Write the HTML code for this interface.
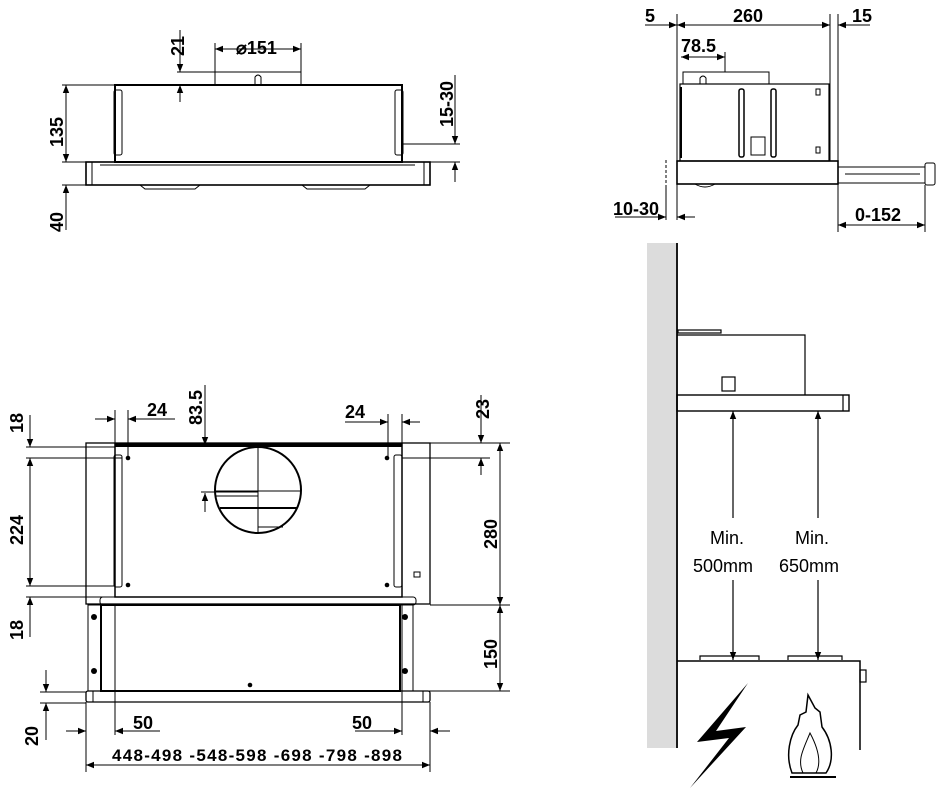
<!DOCTYPE html>
<html><head><meta charset="utf-8"><style>
html,body{margin:0;padding:0;background:#fff}
svg{display:block}
text{font-family:"Liberation Sans",sans-serif;fill:#000}
</style></head><body>
<svg width="950" height="797" viewBox="0 0 950 797" xmlns="http://www.w3.org/2000/svg">
<defs>
<marker id="a" viewBox="0 0 10 10" refX="10" refY="5" markerWidth="12" markerHeight="8" orient="auto-start-reverse" markerUnits="userSpaceOnUse"><path d="M0,1 L10,5 L0,9 z" fill="#000"/></marker>
</defs>
<g stroke="#000" fill="none" stroke-width="1">
<rect x="115" y="85" width="287" height="77" stroke-width="2"/>
<rect x="114" y="90" width="8" height="65" rx="2"/>
<rect x="395" y="90" width="8" height="65" rx="2"/>
<rect x="86" y="162" width="344" height="23" stroke-width="1.6"/>
<line x1="92" y1="162" x2="92" y2="185"/><line x1="424" y1="162" x2="424" y2="185"/>
<line x1="100" y1="165" x2="415" y2="165"/>
<path d="M140 185 L145 189 L195 189 L200 185 M302 185 L307 189 L365 189 L370 185"/>
<path d="M255 85 L255 77 Q258 73 261 77 L261 85"/>
<line x1="215" y1="85" x2="215" y2="43"/><line x1="301" y1="85" x2="301" y2="43"/>
<line x1="177" y1="72" x2="301" y2="72"/>
<line x1="215" y1="49" x2="301" y2="49" marker-start="url(#a)" marker-end="url(#a)"/>
<line x1="180" y1="30" x2="180" y2="72" marker-end="url(#a)"/>
<line x1="180" y1="102" x2="180" y2="85" marker-end="url(#a)"/>
<line x1="62" y1="85" x2="115" y2="85"/>
<line x1="62" y1="162" x2="86" y2="162"/><line x1="62" y1="185" x2="86" y2="185"/>
<line x1="66" y1="85" x2="66" y2="162" marker-start="url(#a)" marker-end="url(#a)"/>
<line x1="66" y1="230" x2="66" y2="185" marker-end="url(#a)"/>
<line x1="403" y1="144" x2="460" y2="144"/><line x1="430" y1="162" x2="460" y2="162"/>
<line x1="455" y1="75" x2="455" y2="144" marker-end="url(#a)"/>
<line x1="455" y1="182" x2="455" y2="162" marker-end="url(#a)"/>
<line x1="677" y1="14" x2="677" y2="220"/><line x1="830" y1="14" x2="830" y2="161"/>
<line x1="838" y1="14" x2="838" y2="232"/>
<line x1="645" y1="25" x2="677" y2="25" marker-end="url(#a)"/>
<line x1="677" y1="25" x2="830" y2="25" marker-start="url(#a)" marker-end="url(#a)"/>
<line x1="870" y1="25" x2="838" y2="25" marker-end="url(#a)"/>
<line x1="681" y1="57" x2="725" y2="57" marker-start="url(#a)" marker-end="url(#a)"/>
<line x1="725" y1="52" x2="725" y2="72"/>
<rect x="683" y="72" width="86" height="12"/>
<path d="M700 84 L700 78 Q703 74 706 78 L706 84"/>
<rect x="680" y="84" width="149" height="77" stroke-width="1.2"/>
<line x1="681" y1="87" x2="681" y2="158" stroke-width="2"/>
<rect x="739" y="89" width="5" height="68" rx="2" stroke-width="1.5"/>
<rect x="771" y="89" width="5" height="68" rx="2" stroke-width="1.5"/>
<rect x="751" y="137" width="14" height="18"/>
<rect x="816" y="89" width="4" height="6"/><rect x="816" y="147" width="4" height="6"/>
<rect x="677" y="161" width="161" height="23" stroke-width="1.6"/>
<path d="M695 184 Q705 190 715 184"/>
<rect x="838" y="167" width="87" height="16"/>
<line x1="845" y1="174" x2="920" y2="174"/>
<rect x="925" y="163" width="10" height="22" rx="2"/>
<line x1="666" y1="160" x2="666" y2="185" stroke-dasharray="3,2"/>
<line x1="666" y1="185" x2="666" y2="220"/>
<line x1="615" y1="217" x2="666" y2="217" marker-end="url(#a)"/>
<line x1="695" y1="217" x2="677" y2="217" marker-end="url(#a)"/>
<line x1="925" y1="185" x2="925" y2="232"/>
<line x1="838" y1="225" x2="925" y2="225" marker-start="url(#a)" marker-end="url(#a)"/>
<rect x="86" y="443" width="344" height="161" stroke-width="1.3"/>
<rect x="115" y="444" width="287" height="153" stroke-width="1.5"/>
<line x1="115" y1="445" x2="402" y2="445" stroke-width="4"/>
<rect x="114" y="455" width="8" height="132" rx="2"/>
<rect x="394" y="455" width="8" height="132" rx="2"/>
<circle cx="258" cy="490" r="43" stroke-width="2"/>
<line x1="258" y1="447" x2="258" y2="533"/>
<line x1="215" y1="491" x2="300" y2="491"/>
<line x1="220" y1="508" x2="297" y2="508" stroke-width="2"/>
<line x1="215" y1="496" x2="258" y2="496"/>
<line x1="258" y1="527" x2="283" y2="527"/>
<rect x="100" y="597" width="316" height="8" rx="3"/>
<rect x="88" y="605" width="13" height="86"/>
<rect x="101" y="605" width="299" height="86" stroke-width="2"/>
<rect x="400" y="605" width="13" height="86"/>
<rect x="86" y="691" width="344" height="11" rx="2" stroke-width="1.3"/>
<line x1="93" y1="691" x2="93" y2="702"/><line x1="423" y1="691" x2="423" y2="702"/>
<rect x="414" y="572" width="6" height="5"/>
<line x1="26" y1="447" x2="115" y2="447"/><line x1="26" y1="458" x2="122" y2="458"/>
<line x1="26" y1="586" x2="115" y2="586"/><line x1="26" y1="597" x2="115" y2="597"/>
<line x1="30" y1="415" x2="30" y2="447" marker-end="url(#a)"/>
<line x1="30" y1="458" x2="30" y2="586" marker-start="url(#a)" marker-end="url(#a)"/>
<line x1="30" y1="637" x2="30" y2="597" marker-end="url(#a)"/>
<line x1="40" y1="692" x2="86" y2="692"/><line x1="40" y1="703" x2="86" y2="703"/>
<line x1="46" y1="670" x2="46" y2="692" marker-end="url(#a)"/>
<line x1="46" y1="740" x2="46" y2="703" marker-end="url(#a)"/>
<line x1="115" y1="410" x2="115" y2="444"/><line x1="128" y1="410" x2="128" y2="458"/>
<line x1="95" y1="419" x2="115" y2="419" marker-end="url(#a)"/>
<line x1="175" y1="419" x2="128" y2="419" marker-end="url(#a)"/>
<line x1="388" y1="414" x2="388" y2="458"/><line x1="402" y1="414" x2="402" y2="444"/>
<line x1="345" y1="422" x2="388" y2="422" marker-end="url(#a)"/>
<line x1="420" y1="422" x2="402" y2="422" marker-end="url(#a)"/>
<line x1="205" y1="385" x2="205" y2="445" marker-end="url(#a)"/>
<line x1="205" y1="512" x2="205" y2="493" marker-end="url(#a)"/>
<line x1="201" y1="492" x2="258" y2="492"/>
<line x1="402" y1="458" x2="490" y2="458"/><line x1="430" y1="443" x2="510" y2="443"/>
<line x1="430" y1="605" x2="510" y2="605"/><line x1="413" y1="691" x2="510" y2="691"/>
<line x1="481" y1="395" x2="481" y2="443" marker-end="url(#a)"/>
<line x1="481" y1="475" x2="481" y2="458" marker-end="url(#a)"/>
<line x1="500" y1="443" x2="500" y2="605" marker-start="url(#a)" marker-end="url(#a)"/>
<line x1="500" y1="605" x2="500" y2="691" marker-start="url(#a)" marker-end="url(#a)"/>
<line x1="86" y1="702" x2="86" y2="772"/><line x1="430" y1="702" x2="430" y2="772"/>
<line x1="115" y1="605" x2="115" y2="735"/><line x1="402" y1="605" x2="402" y2="735"/>
<line x1="66" y1="731" x2="86" y2="731" marker-end="url(#a)"/>
<line x1="160" y1="731" x2="115" y2="731" marker-end="url(#a)"/>
<line x1="355" y1="731" x2="402" y2="731" marker-end="url(#a)"/>
<line x1="450" y1="731" x2="430" y2="731" marker-end="url(#a)"/>
<line x1="86" y1="765" x2="430" y2="765" marker-start="url(#a)" marker-end="url(#a)"/>
</g>
<g fill="#000">
<circle cx="128" cy="458" r="2.3"/><circle cx="128" cy="585" r="2.3"/>
<circle cx="387" cy="458" r="2.3"/><circle cx="387" cy="585" r="2.3"/>
<circle cx="250" cy="685" r="2.3"/>
<circle cx="94" cy="617" r="3"/><circle cx="94" cy="671" r="3"/>
<circle cx="405" cy="617" r="3"/><circle cx="405" cy="671" r="3"/>
</g>
<rect x="647" y="243" width="29" height="505" fill="#dcdcdc"/>
<g stroke="#000" fill="none" stroke-width="1.2">
<line x1="677" y1="243" x2="677" y2="748" stroke-width="1.8"/>
<rect x="678" y="330" width="43" height="3"/>
<polyline points="677,335 805,335 805,395"/>
<rect x="722" y="377" width="13" height="14"/>
<rect x="677" y="395" width="172" height="16" stroke-width="1.4"/>
<line x1="843" y1="395" x2="843" y2="411"/>
<line x1="733" y1="411" x2="733" y2="518" marker-start="url(#a)"/>
<line x1="733" y1="580" x2="733" y2="660" marker-end="url(#a)"/>
<line x1="818" y1="411" x2="818" y2="518" marker-start="url(#a)"/>
<line x1="818" y1="580" x2="818" y2="660" marker-end="url(#a)"/>
<polyline points="677,661 860,661 860,750" stroke-width="1.5"/>
<path d="M700 660 L700 656 L759 656 L759 660 M788 660 L788 656 L842 656 L842 660"/>
<rect x="860" y="670" width="6" height="12"/>
<path d="M792 773 C785 755 790 735 798 725 L800 715 L806 712 L808 695 L815 708 L820 712 L822 727 C832 740 835 760 826 773 Z" stroke-width="1.5"/>
<path d="M803 773 C797 760 803 750 810 733 C818 748 822 762 816 773" stroke-width="1"/>
<line x1="790" y1="777" x2="836" y2="777" stroke-width="2"/>
</g>
<polygon points="748,683 697,742 729,738 690,788 746,727 716,731" fill="#000"/>
<g font-size="18" font-weight="bold">
<text x="236" y="54">⌀151</text>
<text transform="translate(184,56) rotate(-90)">21</text>
<text transform="translate(63,147) rotate(-90)">135</text>
<text transform="translate(63,232) rotate(-90)">40</text>
<text transform="translate(453,127) rotate(-90)">15-30</text>
<text x="645" y="22">5</text>
<text x="733" y="22">260</text>
<text x="852" y="22">15</text>
<text x="681" y="52">78.5</text>
<text x="613" y="215">10-30</text>
<text x="855" y="221">0-152</text>
<text x="147" y="416">24</text>
<text x="345" y="418">24</text>
<text transform="translate(202,425) rotate(-90)">83.5</text>
<text transform="translate(23,433) rotate(-90)">18</text>
<text transform="translate(23,545) rotate(-90)">224</text>
<text transform="translate(23,640) rotate(-90)">18</text>
<text transform="translate(38,746) rotate(-90)">20</text>
<text transform="translate(489,419) rotate(-90)">23</text>
<text transform="translate(497,549) rotate(-90)">280</text>
<text transform="translate(497,669) rotate(-90)">150</text>
<text x="133" y="729">50</text>
<text x="352" y="729">50</text>
<text x="112" y="761" font-size="17" textLength="290" lengthAdjust="spacing">448-498 -548-598 -698 -798 -898</text>
</g>
<g font-size="18" fill="#333">
<text x="710" y="544">Min.</text>
<text x="693" y="572">500mm</text>
<text x="795" y="544">Min.</text>
<text x="779" y="572">650mm</text>
</g>
</svg>
</body></html>
